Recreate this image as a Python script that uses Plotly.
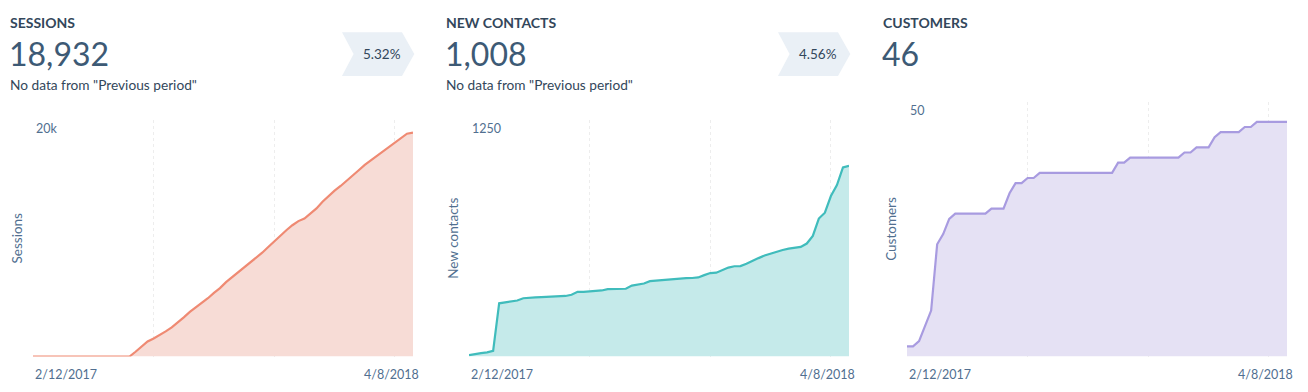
import datetime as dt
import plotly.graph_objects as go

# ---------------- data ----------------
start = dt.date(2017, 2, 12)
weeks = [start + dt.timedelta(weeks=i) for i in range(64)]

sessions = [0, 0, 0, 0, 0, 0, 0, 0, 0, 0, 0, 0, 0, 0, 0, 0, 0,
            400, 820, 1270, 1530, 1810, 2120, 2460, 2860, 3310, 3770, 4160,
            4500, 4930, 5380, 5780, 6290, 6710, 7080, 7480, 7900, 8330, 8780,
            9260, 9750, 10200, 10680, 11100, 11450, 11670, 12100, 12520, 13090,
            13600, 14020, 14420, 14840, 15300, 15750, 16200, 16570, 16970, 17340,
            17680, 18050, 18410, 18840, 18932]

new_contacts = [7, 14, 18, 22, 30, 281, 285, 290, 296, 308, 312, 313, 314, 315,
                316, 317, 320, 326, 342, 342, 343, 346, 349, 356, 357, 357, 358,
                375, 381, 386, 398, 401, 404, 408, 411, 413, 414, 415, 418, 430,
                441, 443, 455, 470, 477, 478, 490, 503, 520, 534, 545, 556, 563,
                570, 575, 579, 597, 637, 729, 760, 848, 906, 999, 1008]

customers = [2, 2, 3, 6, 9, 22, 24, 27, 28, 28, 28, 28, 28, 28, 29, 29, 29, 32,
             34, 34, 35, 35, 36, 36, 36, 36, 36, 36, 36, 36, 36, 36, 36, 36, 36,
             38, 38, 39, 39, 39, 39, 39, 39, 39, 39, 39, 40, 40, 41, 41, 41, 43,
             44, 44, 44, 44, 45, 45, 46, 46, 46, 46, 46, 46]

titles = ["SESSIONS", "NEW CONTACTS", "CUSTOMERS"]
totals = ["18,932", "1,008", "46"]
changes = ["5.32%", "4.56%", None]
notes = ['No data from "Previous period"', 'No data from "Previous period"', None]
axis_titles = ["Sessions", "New contacts", "Customers"]
y_max = [20000, 1250, 50]
y_max_labels = ["20k", "1250", "50"]
grid_dates = [weeks[0], weeks[20], weeks[40], weeks[60]]
x_tick_labels = ["2/12/2017", "4/8/2018"]

series = [sessions, new_contacts, customers]
line_colors = ["#ef8a73", "#40bcbc", "#a89be0"]
fill_colors = ["#f7dcd6", "#c5eaea", "#e5e1f4"]

# ---------------- layout constants (pixels) ----------------
W, H = 1308, 392
FONT = "Lato, 'Open Sans', sans-serif"
DARK = "#33475b"
MUTED = "#516f90"
panel_left = [8, 444, 881]
plot_x = [(33, 413), (469, 849), (907, 1287)]
plot_top = [120, 120, 101.5]
plot_bottom = 356.5


def px(x):
    return x / W


def py(y):
    return (H - y) / H


fig = go.Figure()
annotations = []
shapes = []

for i in range(3):
    sfx = "" if i == 0 else str(i + 1)
    xa, ya = "x" + sfx, "y" + sfx
    fig.add_trace(go.Scatter(
        x=weeks, y=series[i], mode="lines", xaxis=xa, yaxis=ya,
        line=dict(color=line_colors[i], width=2.2),
        fill="tozeroy", fillcolor=fill_colors[i], hoverinfo="skip",
        showlegend=False,
    ))
    fig.update_layout(**{
        "xaxis" + sfx: dict(
            domain=[px(plot_x[i][0]), px(plot_x[i][1])],
            anchor=ya, range=[weeks[0], weeks[-1]], type="date",
            tickvals=grid_dates, showticklabels=False, ticks="",
            showgrid=True, gridcolor="#ededed", griddash="3px,3px", gridwidth=1,
            zeroline=False, showline=False,
        ),
        "yaxis" + sfx: dict(
            domain=[py(plot_bottom), py(plot_top[i])],
            anchor=xa, range=[0, y_max[i]],
            tickvals=[y_max[i]], ticktext=[y_max_labels[i]],
            ticklabelposition="inside bottom", ticks="",
            tickfont=dict(family=FONT, size=12.5, color=MUTED),
            showgrid=False, zeroline=False, showline=False,
            title=dict(text=axis_titles[i], standoff=10,
                       font=dict(family=FONT, size=13.5, color=MUTED)),
        ),
    })

    # header texts
    annotations.append(dict(
        text=titles[i], xref="paper", yref="paper", x=px(panel_left[i]), y=py(23),
        xanchor="left", yanchor="middle", showarrow=False,
        font=dict(family=FONT, size=14, color=DARK, weight=700)))
    annotations.append(dict(
        text=totals[i], xref="paper", yref="paper", x=px(panel_left[i] - 1), y=py(53),
        xanchor="left", yanchor="middle", showarrow=False,
        font=dict(family=FONT, size=32, color="#3d5a75", weight=400)))
    if notes[i]:
        annotations.append(dict(
            text=notes[i], xref="paper", yref="paper", x=px(panel_left[i]), y=py(84),
            xanchor="left", yanchor="middle", showarrow=False,
            font=dict(family=FONT, size=13.7, color=DARK)))
    if changes[i]:
        x0 = panel_left[i] + 334
        pts = [(x0, 32.3), (x0 + 60, 32.3), (x0 + 72.3, 54), (x0 + 60, 76),
               (x0, 76), (x0 + 11.6, 54)]
        path = "M " + " L ".join(f"{px(a):.5f},{py(b):.5f}" for a, b in pts) + " Z"
        shapes.append(dict(type="path", path=path, xref="paper", yref="paper",
                           fillcolor="#eaf0f6", line=dict(width=0), layer="below"))
        annotations.append(dict(
            text=changes[i], xref="paper", yref="paper", x=px(x0 + 39.5), y=py(54),
            xanchor="center", yanchor="middle", showarrow=False,
            font=dict(family=FONT, size=13.5, color=DARK)))

    # x tick labels (first left-justified, last centred on its gridline)
    annotations.append(dict(
        text=x_tick_labels[0], xref=xa, yref="paper", x=grid_dates[0], y=py(374),
        xanchor="left", yanchor="middle", showarrow=False,
        font=dict(family=FONT, size=12.5, color=MUTED)))
    annotations.append(dict(
        text=x_tick_labels[1], xref=xa, yref="paper", x=grid_dates[-1], y=py(374),
        xanchor="center", yanchor="middle", showarrow=False, xshift=-3,
        font=dict(family=FONT, size=12.5, color=MUTED)))

fig.update_layout(
    width=W, height=H, margin=dict(l=0, r=0, t=0, b=0),
    paper_bgcolor="white", plot_bgcolor="white",
    annotations=annotations, shapes=shapes,
    font=dict(family=FONT, color=DARK),
    showlegend=False,
)

fig.write_html(
    "out.html",
    config={"displayModeBar": False},
    post_script="document.body.style.margin='0';document.body.style.overflow='hidden';",
)
